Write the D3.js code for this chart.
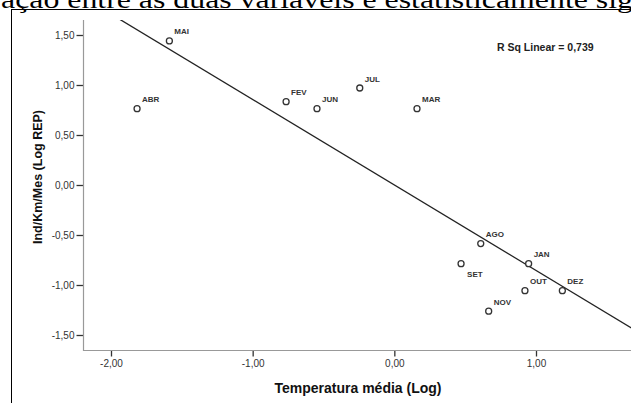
<!DOCTYPE html>
<html>
<head>
<meta charset="utf-8">
<script src="https://cdn.jsdelivr.net/npm/d3@7"></script>
<style>
  html, body { margin: 0; padding: 0; background: #fff; }
  svg { display: block; background: #fff; }
</style>
</head>
<body>
<svg id="chart" width="631" height="403"></svg>
<script>
// ---- data ----
const months = ["MAI", "ABR", "FEV", "JUN", "JUL", "MAR", "AGO", "SET", "JAN", "OUT", "DEZ", "NOV"];
const temperaturaLog = [-1.588, -1.816, -0.764, -0.546, -0.244, 0.160, 0.610, 0.471, 0.948, 0.922, 1.186, 0.666];
const indKmMesLog = [1.441, 0.763, 0.833, 0.763, 0.970, 0.763, -0.586, -0.787, -0.787, -1.057, -1.057, -1.262];
const xTicks = [-2, -1, 0, 1];
const yTicks = [-1.5, -1, -0.5, 0, 0.5, 1, 1.5];
const labelsBelow = ["SET"];
const rSqText = "R Sq Linear = 0,739";
const xTitle = "Temperatura média (Log)";
const yTitle = "Ind/Km/Mes (Log REP)";
const headerText = "ação entre as duas variáveis é estatisticamente sig";

const points = months.map((m, i) => ({ m, x: temperaturaLog[i], y: indKmMesLog[i] }));

// least squares fit
const mx = d3.mean(temperaturaLog), my = d3.mean(indKmMesLog);
const sxy = d3.sum(points, p => (p.x - mx) * (p.y - my));
const sxx = d3.sum(points, p => (p.x - mx) ** 2);
const slope = sxy / sxx, intercept = my - slope * mx;

// ---- layout ----
const svg = d3.select("#chart");
const L = 83, T = 20, R = 633, B = 350;

const x = d3.scaleLinear().domain([-2, 1]).range([111, 536]);
const y = d3.scaleLinear().domain([-1.5, 1.5]).range([335, 35]);
const fmt = v => d3.format(".2f")(v).replace(".", ",").replace("−", "-");

// outer frame
svg.append("rect")
  .attr("x", 11.5).attr("y", 9.5)
  .attr("width", 700).attr("height", 500)
  .attr("fill", "none").attr("stroke", "#000").attr("stroke-width", 1);

// header text (cropped document text above the figure)
svg.append("text")
  .attr("x", 1).attr("y", 8)
  .attr("font-family", "'Liberation Serif', 'DejaVu Serif', serif")
  .attr("font-size", 25)
  .attr("fill", "#000")
  .attr("textLength", 632)
  .attr("lengthAdjust", "spacingAndGlyphs")
  .text(headerText);

svg.append("defs").append("clipPath").attr("id", "plotclip")
  .append("rect").attr("x", L).attr("y", T).attr("width", R - L).attr("height", B - T);

// axes
const xAxis = d3.axisBottom(x).tickValues(xTicks).tickFormat(fmt).tickSizeOuter(0).tickSize(6).tickPadding(3);
const yAxis = d3.axisLeft(y).tickValues(yTicks).tickFormat(fmt).tickSizeOuter(0).tickSize(7).tickPadding(2);

const gx = svg.append("g").attr("transform", `translate(0,${B + 0.5})`).call(xAxis);
const gy = svg.append("g").attr("transform", `translate(${L + 0.5},0)`).call(yAxis);

[gx, gy].forEach(g => {
  g.select(".domain").remove();
  g.selectAll(".tick line").attr("stroke", "#333").attr("stroke-width", 1.3);
  g.selectAll(".tick text")
    .attr("fill", "#333")
    .attr("font-family", "'Liberation Sans', Arial, sans-serif")
    .attr("font-size", 10);
});

// axis lines (grey)
svg.append("line").attr("x1", L + 0.5).attr("x2", L + 0.5).attr("y1", T).attr("y2", B + 1)
  .attr("stroke", "#999").attr("stroke-width", 1.2);
svg.append("line").attr("x1", L).attr("x2", 631).attr("y1", B + 0.5).attr("y2", B + 0.5)
  .attr("stroke", "#999").attr("stroke-width", 1.2);

// regression line
const xd = [x.invert(L), x.invert(R)];
svg.append("line")
  .attr("clip-path", "url(#plotclip)")
  .attr("x1", x(xd[0])).attr("y1", y(intercept + slope * xd[0]))
  .attr("x2", x(xd[1])).attr("y2", y(intercept + slope * xd[1]))
  .attr("stroke", "#222").attr("stroke-width", 1.3);

// points
svg.append("g").selectAll("circle").data(points).join("circle")
  .attr("cx", d => x(d.x)).attr("cy", d => y(d.y)).attr("r", 3)
  .attr("fill", "#fff").attr("stroke", "#333").attr("stroke-width", 1.3);

// point labels
svg.append("g").selectAll("text").data(points).join("text")
  .attr("x", d => x(d.x) + (labelsBelow.includes(d.m) ? 6 : 5))
  .attr("y", d => y(d.y) + (labelsBelow.includes(d.m) ? 13.5 : -6.5))
  .attr("font-family", "'Liberation Sans', Arial, sans-serif")
  .attr("font-size", 8).attr("font-weight", "bold").attr("fill", "#333")
  .text(d => d.m);

// R squared
svg.append("text")
  .attr("x", 497).attr("y", 51)
  .attr("font-family", "'Liberation Sans', Arial, sans-serif")
  .attr("font-size", 10.5).attr("font-weight", "bold").attr("fill", "#222")
  .text(rSqText);

// axis titles
svg.append("text")
  .attr("x", 358).attr("y", 393)
  .attr("text-anchor", "middle")
  .attr("font-family", "'Liberation Sans', Arial, sans-serif")
  .attr("font-size", 14).attr("font-weight", "bold").attr("fill", "#111")
  .text(xTitle);

svg.append("text")
  .attr("transform", "translate(42,177) rotate(-90)")
  .attr("text-anchor", "middle")
  .attr("font-family", "'Liberation Sans', Arial, sans-serif")
  .attr("font-size", 12.5).attr("font-weight", "bold").attr("fill", "#111")
  .text(yTitle);
</script>
</body>
</html>
